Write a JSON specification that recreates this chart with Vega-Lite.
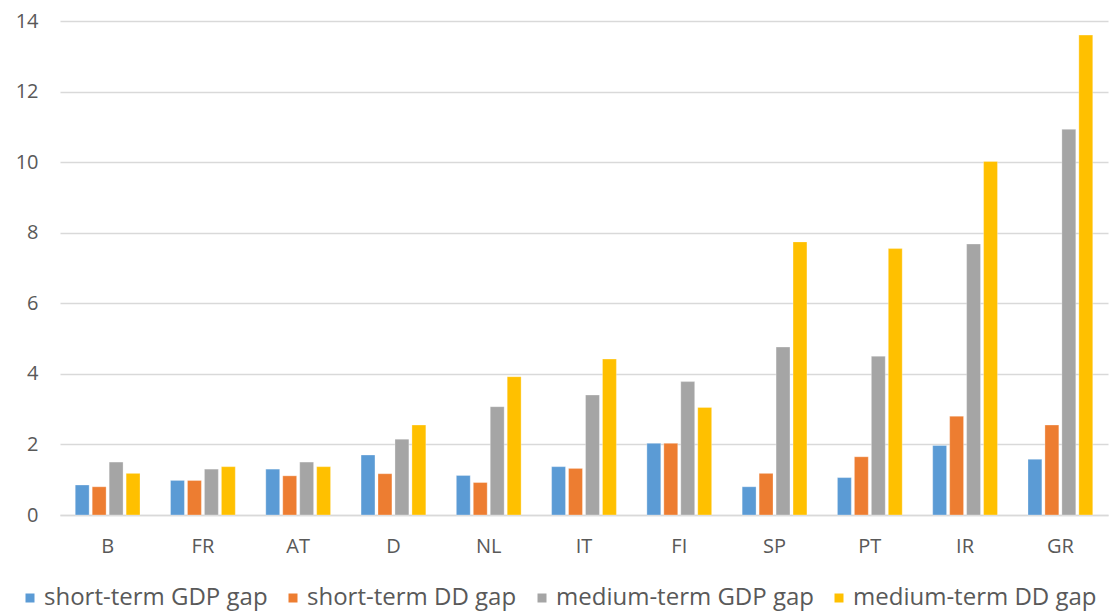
{
  "$schema": "https://vega.github.io/schema/vega-lite/v6.json",
  "width": 1048,
  "height": 494,
  "autosize": {"type": "none"},
  "padding": {"left": 60, "top": 21, "right": 2, "bottom": 100},
  "background": "white",
  "data": {
    "values": [
      {"country": "B", "series": "short-term GDP gap", "value": 0.85},
      {"country": "B", "series": "short-term DD gap", "value": 0.8},
      {"country": "B", "series": "medium-term GDP gap", "value": 1.5},
      {"country": "B", "series": "medium-term DD gap", "value": 1.18},
      {"country": "FR", "series": "short-term GDP gap", "value": 0.98},
      {"country": "FR", "series": "short-term DD gap", "value": 0.98},
      {"country": "FR", "series": "medium-term GDP gap", "value": 1.3},
      {"country": "FR", "series": "medium-term DD gap", "value": 1.37},
      {"country": "AT", "series": "short-term GDP gap", "value": 1.3},
      {"country": "AT", "series": "short-term DD gap", "value": 1.11},
      {"country": "AT", "series": "medium-term GDP gap", "value": 1.5},
      {"country": "AT", "series": "medium-term DD gap", "value": 1.37},
      {"country": "D", "series": "short-term GDP gap", "value": 1.7},
      {"country": "D", "series": "short-term DD gap", "value": 1.17},
      {"country": "D", "series": "medium-term GDP gap", "value": 2.15},
      {"country": "D", "series": "medium-term DD gap", "value": 2.55},
      {"country": "NL", "series": "short-term GDP gap", "value": 1.12},
      {"country": "NL", "series": "short-term DD gap", "value": 0.92},
      {"country": "NL", "series": "medium-term GDP gap", "value": 3.07},
      {"country": "NL", "series": "medium-term DD gap", "value": 3.92},
      {"country": "IT", "series": "short-term GDP gap", "value": 1.37},
      {"country": "IT", "series": "short-term DD gap", "value": 1.32},
      {"country": "IT", "series": "medium-term GDP gap", "value": 3.4},
      {"country": "IT", "series": "medium-term DD gap", "value": 4.42},
      {"country": "FI", "series": "short-term GDP gap", "value": 2.03},
      {"country": "FI", "series": "short-term DD gap", "value": 2.03},
      {"country": "FI", "series": "medium-term GDP gap", "value": 3.78},
      {"country": "FI", "series": "medium-term DD gap", "value": 3.05},
      {"country": "SP", "series": "short-term GDP gap", "value": 0.8},
      {"country": "SP", "series": "short-term DD gap", "value": 1.18},
      {"country": "SP", "series": "medium-term GDP gap", "value": 4.76},
      {"country": "SP", "series": "medium-term DD gap", "value": 7.74},
      {"country": "PT", "series": "short-term GDP gap", "value": 1.06},
      {"country": "PT", "series": "short-term DD gap", "value": 1.65},
      {"country": "PT", "series": "medium-term GDP gap", "value": 4.5},
      {"country": "PT", "series": "medium-term DD gap", "value": 7.55},
      {"country": "IR", "series": "short-term GDP gap", "value": 1.97},
      {"country": "IR", "series": "short-term DD gap", "value": 2.8},
      {"country": "IR", "series": "medium-term GDP gap", "value": 7.68},
      {"country": "IR", "series": "medium-term DD gap", "value": 10.02},
      {"country": "GR", "series": "short-term GDP gap", "value": 1.58},
      {"country": "GR", "series": "short-term DD gap", "value": 2.55},
      {"country": "GR", "series": "medium-term GDP gap", "value": 10.93},
      {"country": "GR", "series": "medium-term DD gap", "value": 13.6}
    ]
  },
  "mark": {"type": "bar", "stroke": "white", "strokeWidth": 0.5, "strokeOpacity": 0.6},
  "encoding": {
    "x": {
      "field": "country",
      "type": "nominal",
      "sort": null,
      "title": null,
      "scale": {"paddingInner": 0.32, "paddingOuter": 0.16},
      "axis": {
        "labelAngle": 0,
        "labelFont": "Open Sans",
        "labelFontSize": 20,
        "labelColor": "#595959",
        "labelPadding": 21,
        "ticks": false,
        "domainColor": "#d9d9d9",
        "domainWidth": 1.5
      }
    },
    "xOffset": {
      "field": "series",
      "type": "nominal",
      "sort": ["short-term GDP gap", "short-term DD gap", "medium-term GDP gap", "medium-term DD gap"],
      "scale": {"paddingInner": 0.18}
    },
    "y": {
      "field": "value",
      "type": "quantitative",
      "title": null,
      "scale": {"domain": [0, 14]},
      "axis": {
        "values": [0, 2, 4, 6, 8, 10, 12, 14],
        "labelFont": "Open Sans",
        "labelFontSize": 20,
        "labelColor": "#595959",
        "labelPadding": 22,
        "ticks": false,
        "domain": false,
        "gridColor": "#d9d9d9",
        "gridWidth": 1.5
      }
    },
    "color": {
      "field": "series",
      "type": "nominal",
      "sort": ["short-term GDP gap", "short-term DD gap", "medium-term GDP gap", "medium-term DD gap"],
      "scale": {
        "domain": ["short-term GDP gap", "short-term DD gap", "medium-term GDP gap", "medium-term DD gap"],
        "range": ["#5B9BD5", "#ED7D31", "#A5A5A5", "#FFC000"]
      },
      "legend": {
        "title": null,
        "orient": "none",
        "direction": "horizontal",
        "legendX": -42,
        "legendY": 565,
        "symbolType": "square",
        "symbolSize": 81,
        "symbolStrokeWidth": 0,
        "labelFont": "Open Sans",
        "labelFontSize": 24,
        "labelLimit": 0,
        "labelColor": "#595959",
        "labelOffset": 2,
        "columnPadding": 13
      }
    }
  },
  "config": {"view": {"stroke": null}}
}
